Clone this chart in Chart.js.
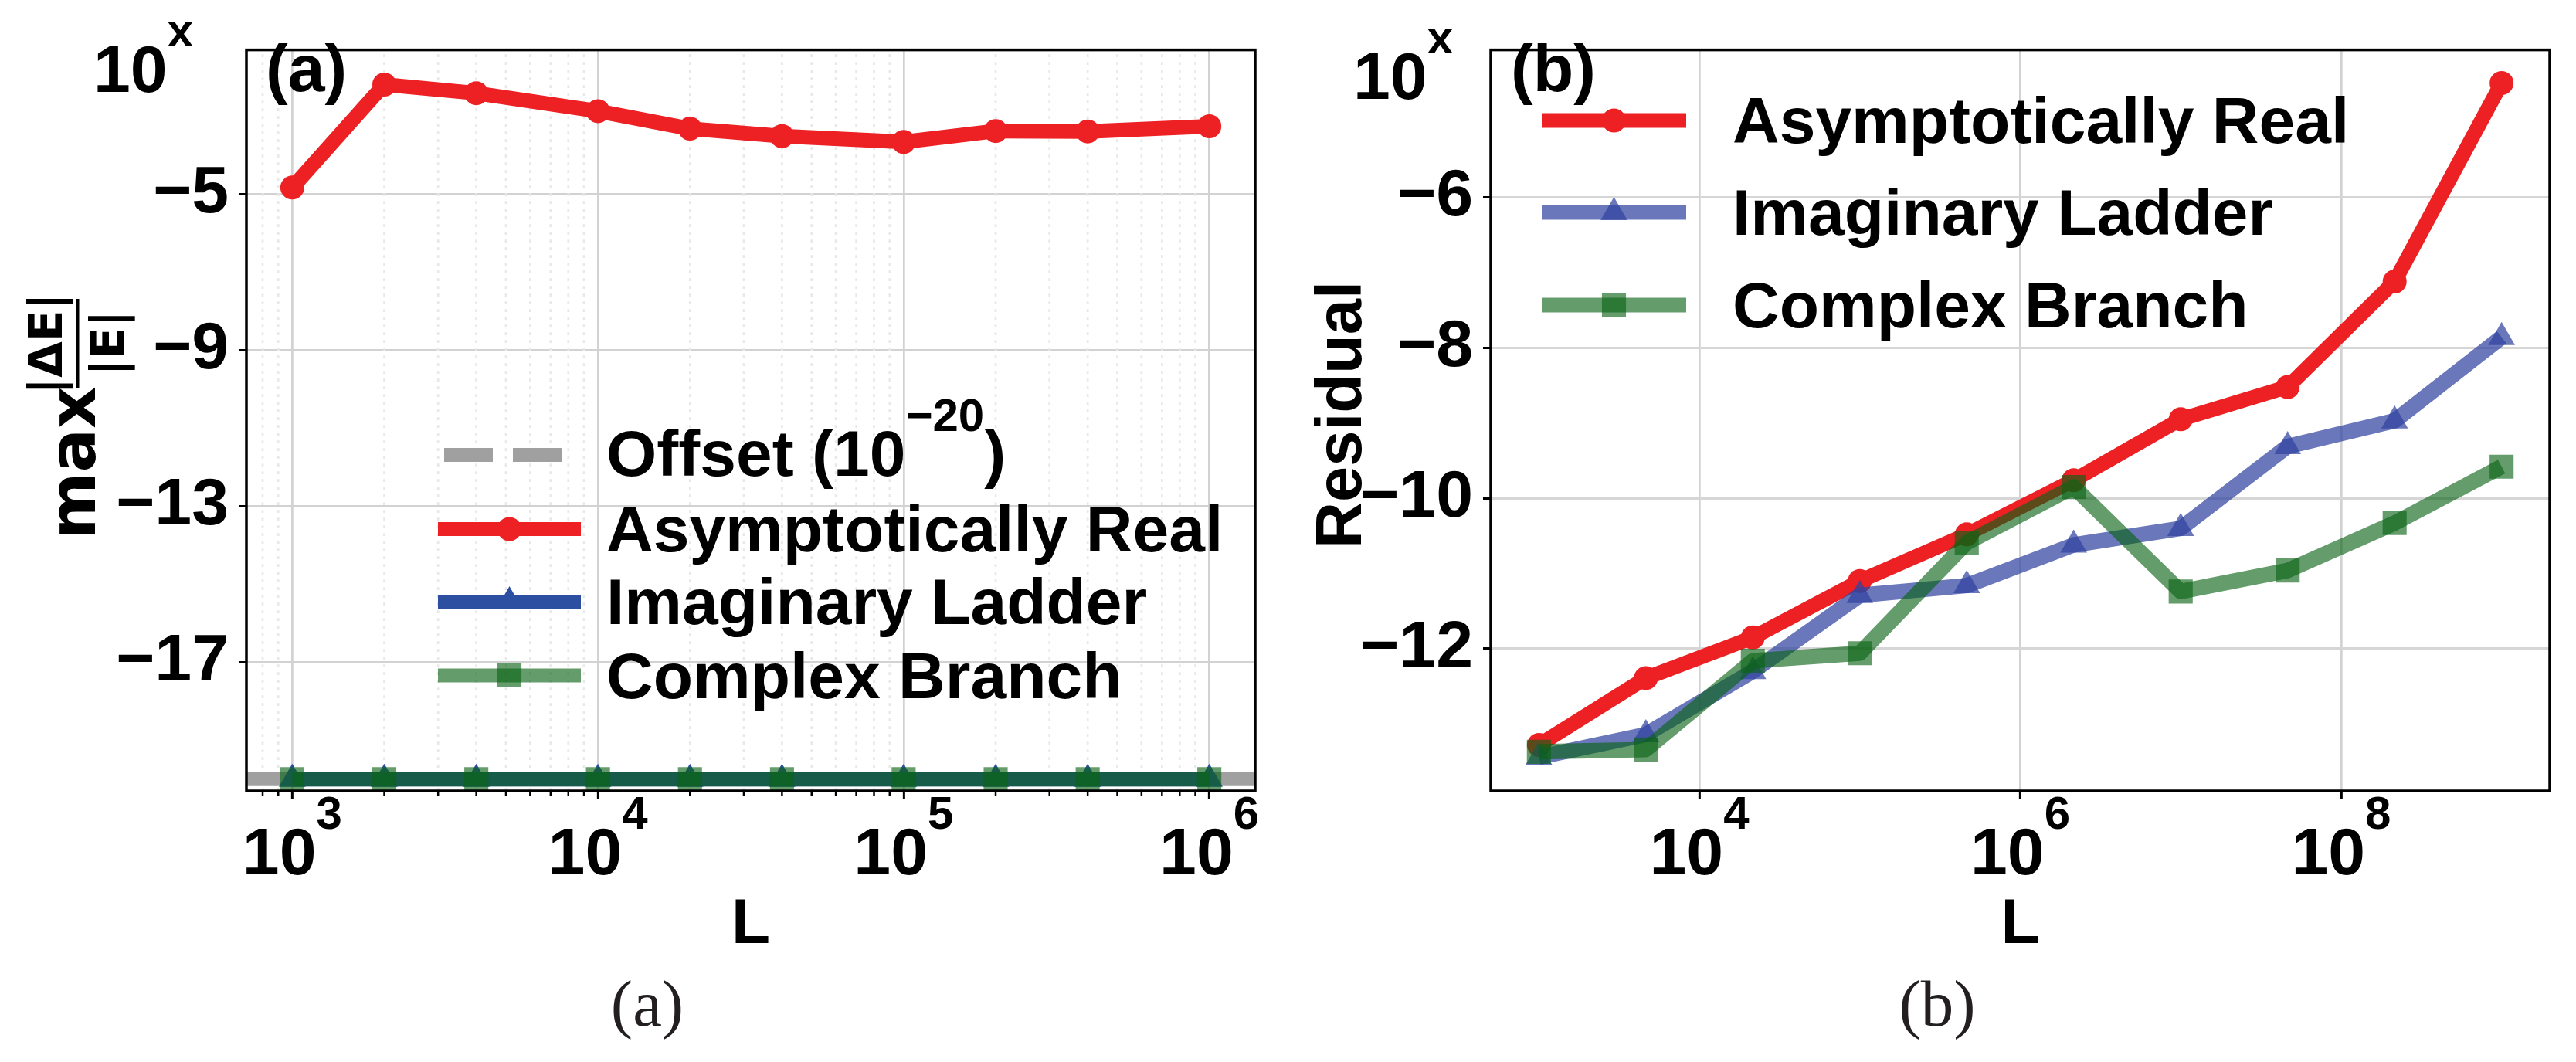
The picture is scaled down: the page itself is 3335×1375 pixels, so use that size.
<!DOCTYPE html>
<html><head><meta charset="utf-8">
<script src="https://cdn.jsdelivr.net/npm/chart.js@4.4.1/dist/chart.umd.min.js"></script>
<style>
html,body{margin:0;padding:0;background:#fff;}
#wrap{position:relative;width:3335px;height:1375px;overflow:hidden;background:#fff;}
canvas{position:absolute;top:0;}
#ca{left:0;} #cb{left:1665px;}
</style></head><body>
<div id="wrap"><canvas id="ca" width="1665" height="1375"></canvas><canvas id="cb" width="1670" height="1375"></canvas></div>
<script>
// ---------- Panel (a) data ----------
const lengthsA = [1000, 2000, 4000, 10000, 20000, 40000, 100000, 200000, 400000, 1000000];
const realA    = [-4.83, -2.19, -2.41, -2.87, -3.32, -3.51, -3.66, -3.38, -3.39, -3.26];
const ladderA  = [-20, -20, -20, -20, -20, -20, -20, -20, -20, -20];
const branchA  = [-20, -20, -20, -20, -20, -20, -20, -20, -20, -20];
const offsetExpA = -20;
const xTicksA = [1e3, 1e4, 1e5, 1e6];
const yTicksA = [-17, -13, -9, -5];
const xRangeA = [707.9, 1412538];
const yRangeA = [-20.3, -1.3];
const offsetLabel = ['Offset (10', '\u221220', ')'];

// ---------- Panel (b) data ----------
const lengthsB = [1000, 4642, 21544, 100000, 464159, 2154435, 10000000, 46415888, 215443469, 1000000000];
const realB    = [-13.28, -12.39, -11.85, -11.10, -10.48, -9.76, -8.95, -8.52, -7.12, -4.48];
const ladderB  = [-13.44, -13.14, -12.30, -11.29, -11.16, -10.62, -10.40, -9.31, -8.97, -7.86];
const branchB  = [-13.37, -13.34, -12.16, -12.06, -10.59, -9.85, -11.24, -10.96, -10.33, -9.58];
const xTicksB = [1e4, 1e6, 1e8];
const yTicksB = [-12, -10, -8, -6];
const xRangeB = [501.19, 1995262315];
const yRangeB = [-13.89, -4.04];

const seriesNames = ['Asymptotically Real', 'Imaginary Ladder', 'Complex Branch'];

const SANS = '"Liberation Sans", Arial, sans-serif';
const RED = '#ED2024';
const BLUE_A = '#2C4FA1';
const BLUE_B = 'rgba(48,66,160,0.72)';
const GREEN = 'rgba(10,100,20,0.63)';
const GRAY = '#a0a0a0';

function pts(xs, ys) { return xs.map((x, i) => ({x: x, y: ys[i]})); }

function drawMarker(ctx, style, x, y, r, color) {
  ctx.fillStyle = color; ctx.beginPath();
  if (style === 'circle') ctx.arc(x, y, r, 0, Math.PI * 2);
  else if (style === 'triangle') { ctx.moveTo(x, y - r); ctx.lineTo(x + 0.866 * r, y + 0.5 * r); ctx.lineTo(x - 0.866 * r, y + 0.5 * r); ctx.closePath(); }
  else if (style === 'rect') { const s = r * Math.SQRT1_2; ctx.rect(x - s, y - s, 2 * s, 2 * s); }
  ctx.fill();
}

function drawSupText(ctx, x, y, base, sup, tail, size, supSize, rise) {
  ctx.font = 'bold ' + size + 'px ' + SANS;
  ctx.fillText(base, x, y);
  let w = ctx.measureText(base).width;
  ctx.font = 'bold ' + supSize + 'px ' + SANS;
  ctx.fillText(sup, x + w, y - rise);
  w += ctx.measureText(sup).width;
  if (tail) { ctx.font = 'bold ' + size + 'px ' + SANS; ctx.fillText(tail, x + w, y); }
}

function makePlugin(p) {
  return {
    id: 'deco' + p.name,
    beforeDatasetsDraw(chart) {
      const ctx = chart.ctx, xs = chart.scales.x, a = chart.chartArea;
      if (p.minor) {
        ctx.save();
        ctx.strokeStyle = '#e8e8e8'; ctx.lineWidth = 2.7; ctx.setLineDash([3.7, 6.3]);
        const e0 = Math.floor(Math.log10(xs.min)), e1 = Math.ceil(Math.log10(xs.max));
        for (let e = e0; e <= e1; e++) for (let k = 2; k <= 9; k++) {
          const v = k * Math.pow(10, e);
          if (v < xs.min || v > xs.max) continue;
          const px = xs.getPixelForValue(v);
          ctx.beginPath(); ctx.moveTo(px, a.bottom); ctx.lineTo(px, a.top); ctx.stroke();
        }
        ctx.restore();
      }
    },
    afterDatasetsDraw(chart) {
      const ctx = chart.ctx, xs = chart.scales.x, a = chart.chartArea;
      ctx.save();
      ctx.strokeStyle = '#000'; ctx.lineWidth = 3.5;
      ctx.strokeRect(a.left, a.top, a.right - a.left, a.bottom - a.top);
      if (p.minor) {
        ctx.lineWidth = 2.5;
        const e0 = Math.floor(Math.log10(xs.min)), e1 = Math.ceil(Math.log10(xs.max));
        for (let e = e0; e <= e1; e++) for (let k = 2; k <= 9; k++) {
          const v = k * Math.pow(10, e);
          if (v < xs.min || v > xs.max) continue;
          const px = xs.getPixelForValue(v);
          ctx.beginPath(); ctx.moveTo(px, a.bottom); ctx.lineTo(px, a.bottom + 6); ctx.stroke();
        }
      }
      ctx.fillStyle = '#000'; ctx.textAlign = 'left'; ctx.textBaseline = 'alphabetic';
      p.xTicks.forEach(v => {
        const px = xs.getPixelForValue(v);
        const ex = String(Math.round(Math.log10(v)));
        ctx.font = 'bold 86px ' + SANS; const w1 = ctx.measureText('10').width;
        ctx.font = 'bold 60px ' + SANS; const w2 = ctx.measureText(ex).width;
        const sx = px - (w1 + w2) / 2;
        drawSupText(ctx, sx, 1132, '10', ex, '', 86, 60, 59);
      });
      drawSupText(ctx, p.tenX[0], p.tenX[1], '10', 'x', '', 86, 60, 59);
      ctx.font = 'bold 86px ' + SANS;
      ctx.fillText(p.tag, p.tagPos[0], p.tagPos[1]);
      ctx.textAlign = 'center';
      ctx.font = 'bold 82px ' + SANS;
      ctx.fillText('L', (a.left + a.right) / 2, 1221);
      p.yTitle(ctx);
      ctx.fillStyle = '#231f20';
      ctx.font = '85px "Liberation Serif", "DejaVu Serif", serif';
      ctx.textAlign = 'center';
      ctx.fillText(p.caption, p.captionX, 1328);
      ctx.textAlign = 'left';
      p.legend.rows.forEach((row, i) => {
        const ds = chart.data.datasets[row];
        const cy = p.legend.centers[i];
        ctx.save();
        ctx.strokeStyle = ds.borderColor; ctx.lineWidth = p.legend.lw; ctx.lineCap = 'butt';
        if (ds.borderDash) { ctx.setLineDash(ds.borderDash); ctx.lineDashOffset = -8; }
        ctx.beginPath(); ctx.moveTo(p.legend.x0, cy); ctx.lineTo(p.legend.x1, cy); ctx.stroke();
        ctx.setLineDash([]);
        if (ds.pointRadius > 0) drawMarker(ctx, ds.pointStyle, (p.legend.x0 + p.legend.x1) / 2, cy, ds.pointRadius, ds.pointBackgroundColor);
        ctx.restore();
        ctx.fillStyle = '#000';
        const lab = ds.legendText;
        if (Array.isArray(lab)) drawSupText(ctx, p.legend.tx, cy + 27, lab[0], lab[1], lab[2], 84, 60, 58);
        else { ctx.font = 'bold 84px ' + SANS; ctx.fillText(lab, p.legend.tx, cy + 29); }
      });
      ctx.restore();
    }
  };
}

function scaleOpts(xr, yr, xt, yt, yWidth, gridY) {
  return {
    x: {
      type: 'logarithmic', min: xr[0], max: xr[1], bounds: 'data',
      afterBuildTicks: s => { s.ticks = xt.map(v => ({value: v, major: true})); },
      afterFit: s => { s.height = 351; },
      ticks: {display: false, autoSkip: false},
      grid: {color: '#d2d2d2', lineWidth: 2.7, drawTicks: true, tickLength: 10, tickColor: '#000', tickWidth: 3},
      border: {display: false}
    },
    y: {
      type: 'linear', min: yr[0], max: yr[1], bounds: 'data',
      afterBuildTicks: s => { s.ticks = yt.map(v => ({value: v})); },
      afterFit: s => { s.width = yWidth; },
      ticks: {
        autoSkip: false, padding: 13, color: '#000',
        font: {family: SANS, size: 86, weight: 'bold'},
        callback: v => String(v).replace('-', '\u2212')
      },
      grid: {color: gridY, lineWidth: 3, drawTicks: true, tickLength: 10, tickColor: '#000', tickWidth: 3},
      border: {display: false}
    }
  };
}

const common = {
  responsive: false, animation: false, devicePixelRatio: 1, events: [],
  elements: {line: {tension: 0, fill: false, borderJoinStyle: 'round'}},
  plugins: {legend: {display: false}, tooltip: {enabled: false}}
};

// ---------- Chart (a) ----------
new Chart(document.getElementById('ca'), {
  type: 'line',
  data: {
    datasets: [
      {legendText: offsetLabel, data: pts(xRangeA, [offsetExpA, offsetExpA]), borderColor: GRAY, borderWidth: 18, borderDash: [63, 26], pointRadius: 0, order: 4},
      {legendText: seriesNames[0], data: pts(lengthsA, realA), borderColor: RED, backgroundColor: RED, pointBackgroundColor: RED, borderWidth: 19, pointStyle: 'circle', pointRadius: 15.5, pointBorderWidth: 0, order: 3},
      {legendText: seriesNames[1], data: pts(lengthsA, ladderA), borderColor: BLUE_A, backgroundColor: BLUE_A, pointBackgroundColor: BLUE_A, borderWidth: 19, pointStyle: 'triangle', pointRadius: 20, pointBorderWidth: 0, order: 2},
      {legendText: seriesNames[2], data: pts(lengthsA, branchA), borderColor: GREEN, backgroundColor: GREEN, pointBackgroundColor: GREEN, borderWidth: 19, pointStyle: 'rect', pointRadius: 22, pointBorderWidth: 0, order: 1}
    ]
  },
  options: Object.assign({}, common, {
    layout: {padding: {top: 50, right: 40, left: 0, bottom: 0}},
    scales: scaleOpts(xRangeA, yRangeA, xTicksA, yTicksA, 319, '#d2d2d2')
  }),
  plugins: [makePlugin({
    name: 'A', minor: true, xTicks: xTicksA, tenX: [121, 119], tag: '(a)', tagPos: [344, 118],
    caption: '(a)', captionX: 838,
    legend: {rows: [0, 1, 2, 3], centers: [589, 685, 779, 874.5], x0: 567, x1: 752, tx: 785, lw: 18},
    yTitle: ctx => {
      ctx.save();
      ctx.translate(123, 699); ctx.rotate(-Math.PI / 2);
      ctx.fillStyle = '#000'; ctx.textBaseline = 'alphabetic';
      ctx.font = 'bold 84px "DejaVu Sans"'; ctx.textAlign = 'left';
      ctx.fillText('max', 0, 0);
      ctx.font = 'bold 60px "DejaVu Sans"'; ctx.textAlign = 'center';
      ctx.fillText('|\u0394E|', 254, -43);
      ctx.fillText('|E|', 255, 37);
      ctx.fillRect(197, -24.5, 115, 4);
      ctx.restore();
    }
  })]
});

// ---------- Chart (b) ----------
new Chart(document.getElementById('cb'), {
  type: 'line',
  data: {
    datasets: [
      {legendText: seriesNames[0], data: pts(lengthsB, realB), borderColor: RED, backgroundColor: RED, pointBackgroundColor: RED, borderWidth: 19, pointStyle: 'circle', pointRadius: 15.5, pointBorderWidth: 0, order: 3},
      {legendText: seriesNames[1], data: pts(lengthsB, ladderB), borderColor: BLUE_B, backgroundColor: BLUE_B, pointBackgroundColor: BLUE_B, borderWidth: 20, pointStyle: 'triangle', pointRadius: 20, pointBorderWidth: 0, order: 2},
      {legendText: seriesNames[2], data: pts(lengthsB, branchB), borderColor: GREEN, backgroundColor: GREEN, pointBackgroundColor: GREEN, borderWidth: 20, pointStyle: 'rect', pointRadius: 22, pointBorderWidth: 0, order: 1}
    ]
  },
  options: Object.assign({}, common, {
    layout: {padding: {top: 50, right: 34, left: 0, bottom: 0}},
    scales: scaleOpts(xRangeB, yRangeB, xTicksB, yTicksB, 265, '#d6d6d6')
  }),
  plugins: [makePlugin({
    name: 'B', minor: false, xTicks: xTicksB, tenX: [87, 128], tag: '(b)', tagPos: [291, 118],
    caption: '(b)', captionX: 843,
    legend: {rows: [0, 1, 2], centers: [156, 275, 395], x0: 331, x1: 518, tx: 578, lw: 19},
    yTitle: ctx => {
      ctx.save();
      ctx.translate(97, 537); ctx.rotate(-Math.PI / 2);
      ctx.fillStyle = '#000'; ctx.textBaseline = 'alphabetic'; ctx.textAlign = 'center';
      ctx.font = 'bold 83px ' + SANS;
      ctx.fillText('Residual', 0, 0);
      ctx.restore();
    }
  })]
});
</script>
</body></html>
